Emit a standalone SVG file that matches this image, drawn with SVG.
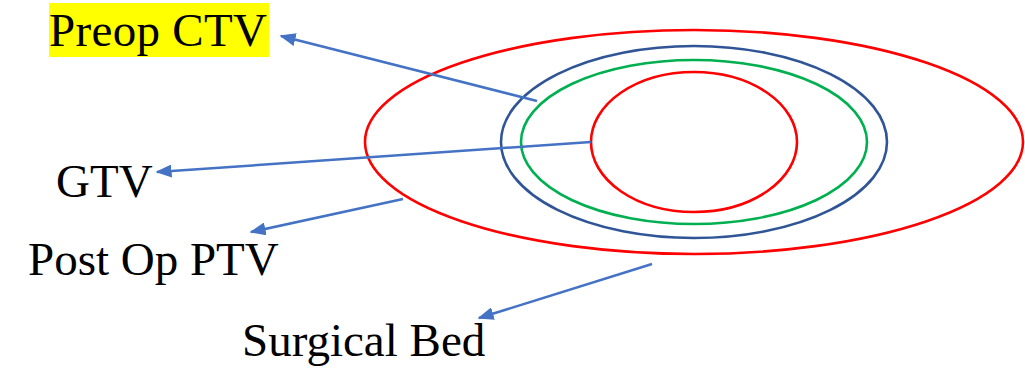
<svg xmlns="http://www.w3.org/2000/svg" width="1025" height="368" viewBox="0 0 1025 368">
<style>
.lbl{font-family:"Liberation Serif","Times New Roman",serif;font-size:47px;fill:#000}
.ring{fill:none;stroke-width:2.6}
.conn{stroke:#4472C4;stroke-width:2.5;fill:none;marker-end:url(#ah)}
</style>
<defs>
<marker id="ah" viewBox="0 0 10 8" refX="9" refY="4" markerWidth="6.5" markerHeight="5.2" orient="auto" markerUnits="strokeWidth">
<path d="M0,0 L10,4 L0,8 Z" fill="#4472C4"/>
</marker>
</defs>
<rect width="1025" height="368" fill="#fff"/>
<g id="surgical-bed-ellipse"><ellipse class="ring" cx="694" cy="142" rx="329" ry="112" stroke="#FF0000"/></g>
<g id="post-op-ptv-ellipse"><ellipse class="ring" cx="694" cy="142" rx="193" ry="96" stroke="#2F5597"/></g>
<g id="preop-ctv-ellipse"><ellipse class="ring" cx="694" cy="142" rx="173" ry="82" stroke="#00B050"/></g>
<g id="gtv-ellipse"><ellipse class="ring" cx="694" cy="142" rx="103" ry="70" stroke="#FF0000"/></g>
<g id="label-preop"><rect x="49" y="3" width="220" height="54" fill="#FFFF00"/><text class="lbl" x="49" y="46" textLength="218">Preop CTV</text></g>
<g id="label-gtv"><text class="lbl" x="56" y="197">GTV</text></g>
<g id="label-postop"><text class="lbl" x="28" y="275">Post Op PTV</text></g>
<g id="label-surgical"><text class="lbl" x="242" y="356">Surgical Bed</text></g>
<g id="connectors">
<line class="conn" x1="537" y1="101" x2="281" y2="36"/>
<line class="conn" x1="591" y1="142" x2="157" y2="172"/>
<line class="conn" x1="403" y1="199" x2="251" y2="232"/>
<line class="conn" x1="652" y1="264" x2="479" y2="318"/>
</g>
</svg>
